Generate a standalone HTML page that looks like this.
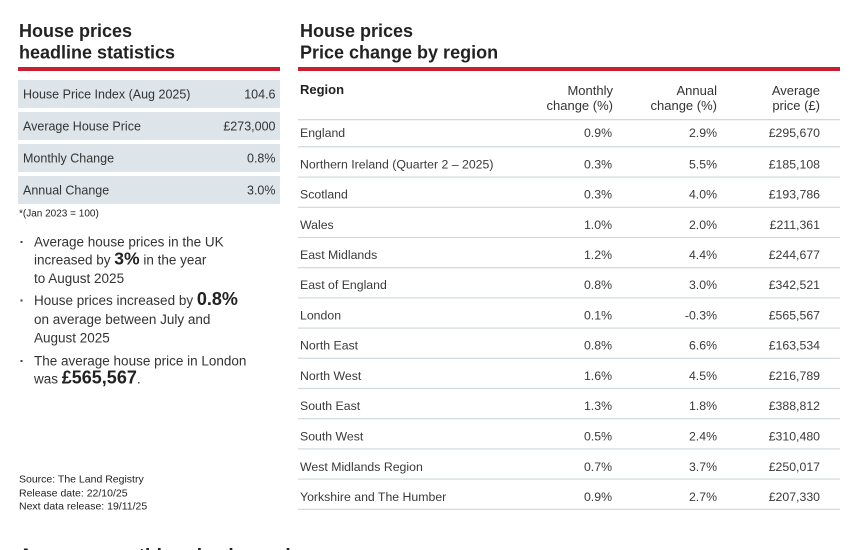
<!DOCTYPE html>
<html>
<head>
<meta charset="utf-8">
<style>
  html,body{margin:0;padding:0;background:#fff;}
  svg{display:block;}
  text{font-family:"Liberation Sans", Arial, sans-serif;}
  .t{font-size:18px;font-weight:bold;fill:#222;}
  .sl{font-size:12.5px;fill:#333;}
  .b{font-size:13.5px;fill:#333;}
  .bb{font-weight:bold;font-size:18px;fill:#222;}
  .src{font-size:10.5px;fill:#222;}
  .h{font-size:13px;fill:#333;}
  .c{font-size:12.3px;fill:#3a3a3a;}
</style>
</head>
<body>
<svg width="863" height="550" viewBox="0 0 863 550" xmlns="http://www.w3.org/2000/svg">
  <rect width="863" height="550" fill="#fff"/>

  <!-- Left panel -->
  <text class="t" x="19" y="37">House prices</text>
  <text class="t" x="19" y="58.5">headline statistics</text>
  <rect x="18" y="67" width="262" height="4" fill="#c8202f"/>

  <rect x="18" y="80" width="262" height="28" fill="#dde5ea"/>
  <rect x="18" y="112" width="262" height="28" fill="#dde5ea"/>
  <rect x="18" y="144" width="262" height="28" fill="#dde5ea"/>
  <rect x="18" y="176" width="262" height="28" fill="#dde5ea"/>

  <text class="sl" x="23" y="98.3">House Price Index (Aug 2025)</text>
  <text class="sl" x="275.5" y="98.3" text-anchor="end">104.6</text>
  <text class="sl" x="23" y="130.3">Average House Price</text>
  <text class="sl" x="275.5" y="130.3" text-anchor="end">£273,000</text>
  <text class="sl" x="23" y="162.3">Monthly Change</text>
  <text class="sl" x="275.5" y="162.3" text-anchor="end">0.8%</text>
  <text class="sl" x="23" y="194.3">Annual Change</text>
  <text class="sl" x="275.5" y="194.3" text-anchor="end">3.0%</text>

  <text x="19" y="216.5" style="font-size:10px;fill:#222;">*(Jan 2023 = 100)</text>

  <!-- bullets -->
  <rect x="20.5" y="241" width="2" height="2" fill="#444"/>
  <text class="b" x="34" y="246.7">Average house prices in the UK</text>
  <text class="b" x="34" y="264.5">increased by <tspan class="bb" style="font-size:17.5px">3%</tspan> in the year</text>
  <text class="b" x="34" y="283">to August 2025</text>

  <rect x="20.5" y="299.5" width="2" height="2" fill="#444"/>
  <text class="b" x="34" y="305">House prices increased by <tspan class="bb">0.8%</tspan></text>
  <text class="b" x="34" y="324">on average between July and</text>
  <text class="b" x="34" y="342.3">August 2025</text>

  <rect x="20.5" y="360" width="2" height="2" fill="#444"/>
  <text class="b" x="34" y="365.7">The average house price in London</text>
  <text class="b" x="34" y="383.3">was <tspan class="bb">£565,567</tspan>.</text>

  <text class="src" x="19" y="482.3">Source: The Land Registry</text>
  <text class="src" x="19" y="496.7">Release date: 22/10/25</text>
  <text class="src" x="19" y="509.3">Next data release: 19/11/25</text>

  <text x="19" y="562" style="font-size:19px;font-weight:bold;fill:#222;">Average monthly price by region</text>

  <!-- Right panel -->
  <text class="t" x="300" y="37">House prices</text>
  <text class="t" x="300" y="58.5">Price change by region</text>
  <rect x="298" y="67" width="542" height="4" fill="#c8202f"/>

  <text x="300" y="94" style="font-size:13px;font-weight:bold;fill:#222;">Region</text>
  <text class="h" x="613" y="95" text-anchor="end">Monthly</text>
  <text class="h" x="613" y="110" text-anchor="end">change (%)</text>
  <text class="h" x="717" y="95" text-anchor="end">Annual</text>
  <text class="h" x="717" y="110" text-anchor="end">change (%)</text>
  <text class="h" x="820" y="95" text-anchor="end">Average</text>
  <text class="h" x="820" y="110" text-anchor="end">price (£)</text>

  <g fill="#cfd9de">
    <rect x="298" y="119" width="542" height="1.3"/>
    <rect x="298" y="146.2" width="542" height="1.2"/>
    <rect x="298" y="176.5" width="542" height="1.2"/>
    <rect x="298" y="206.7" width="542" height="1.2"/>
    <rect x="298" y="236.9" width="542" height="1.2"/>
    <rect x="298" y="267.1" width="542" height="1.2"/>
    <rect x="298" y="297.3" width="542" height="1.2"/>
    <rect x="298" y="327.5" width="542" height="1.2"/>
    <rect x="298" y="357.7" width="542" height="1.2"/>
    <rect x="298" y="387.9" width="542" height="1.2"/>
    <rect x="298" y="418.1" width="542" height="1.2"/>
    <rect x="298" y="448.3" width="542" height="1.2"/>
    <rect x="298" y="478.5" width="542" height="1.2"/>
    <rect x="298" y="508.7" width="542" height="1.2"/>
  </g>

  <g class="c">
    <text class="c" x="300" y="137">England</text>
    <text class="c" x="612" y="137" text-anchor="end">0.9%</text>
    <text class="c" x="717" y="137" text-anchor="end">2.9%</text>
    <text class="c" x="820" y="137" text-anchor="end">£295,670</text>

    <text class="c" x="300" y="168.3">Northern Ireland (Quarter 2 – 2025)</text>
    <text class="c" x="612" y="168.3" text-anchor="end">0.3%</text>
    <text class="c" x="717" y="168.3" text-anchor="end">5.5%</text>
    <text class="c" x="820" y="168.3" text-anchor="end">£185,108</text>

    <text class="c" x="300" y="198.6">Scotland</text>
    <text class="c" x="612" y="198.6" text-anchor="end">0.3%</text>
    <text class="c" x="717" y="198.6" text-anchor="end">4.0%</text>
    <text class="c" x="820" y="198.6" text-anchor="end">£193,786</text>

    <text class="c" x="300" y="228.8">Wales</text>
    <text class="c" x="612" y="228.8" text-anchor="end">1.0%</text>
    <text class="c" x="717" y="228.8" text-anchor="end">2.0%</text>
    <text class="c" x="820" y="228.8" text-anchor="end">£211,361</text>

    <text class="c" x="300" y="259">East Midlands</text>
    <text class="c" x="612" y="259" text-anchor="end">1.2%</text>
    <text class="c" x="717" y="259" text-anchor="end">4.4%</text>
    <text class="c" x="820" y="259" text-anchor="end">£244,677</text>

    <text class="c" x="300" y="289.2">East of England</text>
    <text class="c" x="612" y="289.2" text-anchor="end">0.8%</text>
    <text class="c" x="717" y="289.2" text-anchor="end">3.0%</text>
    <text class="c" x="820" y="289.2" text-anchor="end">£342,521</text>

    <text class="c" x="300" y="319.4">London</text>
    <text class="c" x="612" y="319.4" text-anchor="end">0.1%</text>
    <text class="c" x="717" y="319.4" text-anchor="end">-0.3%</text>
    <text class="c" x="820" y="319.4" text-anchor="end">£565,567</text>

    <text class="c" x="300" y="349.6">North East</text>
    <text class="c" x="612" y="349.6" text-anchor="end">0.8%</text>
    <text class="c" x="717" y="349.6" text-anchor="end">6.6%</text>
    <text class="c" x="820" y="349.6" text-anchor="end">£163,534</text>

    <text class="c" x="300" y="379.8">North West</text>
    <text class="c" x="612" y="379.8" text-anchor="end">1.6%</text>
    <text class="c" x="717" y="379.8" text-anchor="end">4.5%</text>
    <text class="c" x="820" y="379.8" text-anchor="end">£216,789</text>

    <text class="c" x="300" y="410.2">South East</text>
    <text class="c" x="612" y="410.2" text-anchor="end">1.3%</text>
    <text class="c" x="717" y="410.2" text-anchor="end">1.8%</text>
    <text class="c" x="820" y="410.2" text-anchor="end">£388,812</text>

    <text class="c" x="300" y="440.4">South West</text>
    <text class="c" x="612" y="440.4" text-anchor="end">0.5%</text>
    <text class="c" x="717" y="440.4" text-anchor="end">2.4%</text>
    <text class="c" x="820" y="440.4" text-anchor="end">£310,480</text>

    <text class="c" x="300" y="470.8">West Midlands Region</text>
    <text class="c" x="612" y="470.8" text-anchor="end">0.7%</text>
    <text class="c" x="717" y="470.8" text-anchor="end">3.7%</text>
    <text class="c" x="820" y="470.8" text-anchor="end">£250,017</text>

    <text class="c" x="300" y="501.2">Yorkshire and The Humber</text>
    <text class="c" x="612" y="501.2" text-anchor="end">0.9%</text>
    <text class="c" x="717" y="501.2" text-anchor="end">2.7%</text>
    <text class="c" x="820" y="501.2" text-anchor="end">£207,330</text>
  </g>
</svg>
</body>
</html>
